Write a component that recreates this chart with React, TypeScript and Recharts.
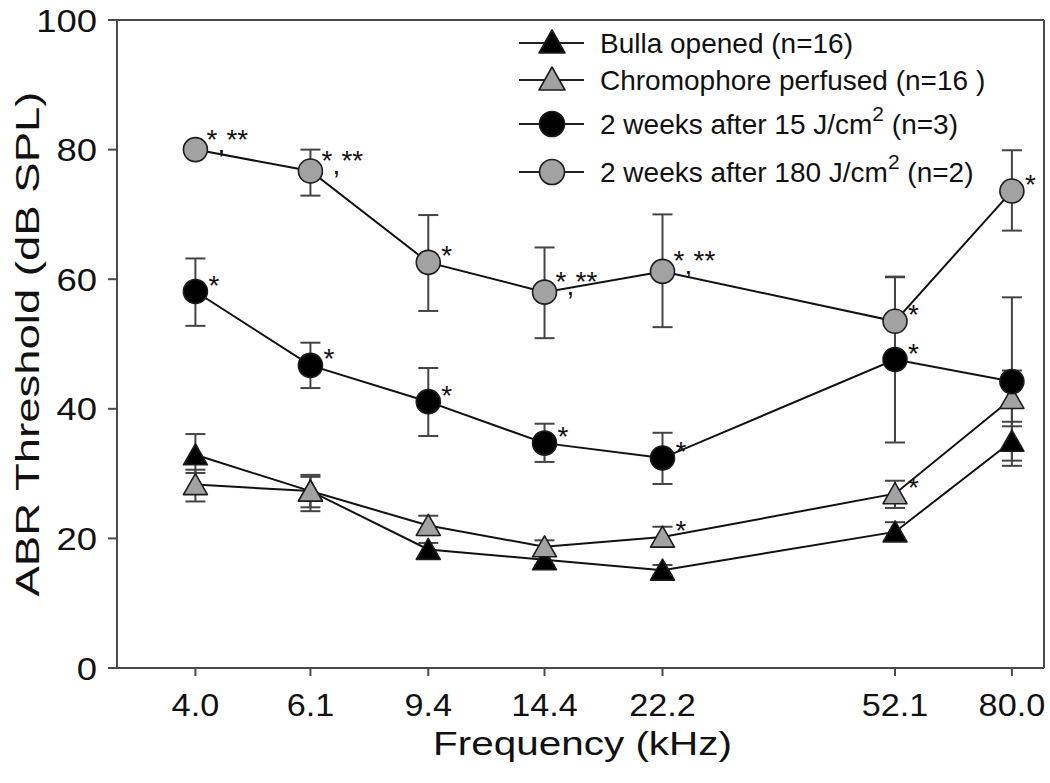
import React from 'react';
import { LineChart, Line, XAxis, YAxis, ErrorBar, ReferenceLine, Legend, LabelList, Label } from 'recharts';

// ---- data ----
const frequencies = [4.0, 6.1, 9.4, 14.4, 22.2, 52.1, 80.0];
const xTickLabels = ['4.0', '6.1', '9.4', '14.4', '22.2', '52.1', '80.0'];
const yTicks = [0, 20, 40, 60, 80, 100];

const bullaOpened = [32.9, 27.3, 18.3, 16.7, 15.1, 21.0, 35.0];
const bullaOpenedErr = [[2.8, 3.2], [2.5, 2.5], [1.0, 1.0], [0.8, 0.8], [0.8, 0.8], [1.2, 1.5], [3.0, 3.0]];
const chromophore = [28.3, 27.3, 22.0, 18.7, 20.2, 26.9, 41.6];
const chromophoreErr = [[2.6, 2.3], [3.1, 2.2], [1.5, 1.5], [1.0, 1.0], [1.5, 1.6], [2.2, 2.0], [4.3, 4.3]];
const weeks15 = [58.1, 46.7, 41.1, 34.7, 32.4, 47.6, 44.2];
const weeks15Err = [[5.3, 5.1], [3.5, 3.5], [5.3, 5.2], [2.9, 3.0], [4.0, 3.9], [12.8, 12.8], [13.0, 13.0]];
const weeks180 = [80.0, 76.7, 62.6, 58.0, 61.2, 53.5, 73.6];
const weeks180Err = [[0, 0], [3.8, 3.3], [7.5, 7.3], [7.1, 6.9], [8.6, 8.8], [6.8, 6.8], [6.1, 6.3]];

const chromophoreSig = ['', '', '', '', '*', '*', ''];
const weeks15Sig = ['*', '*', '*', '*', '*', '*', ''];
const weeks180Sig = ['*,**', '*,**', '*', '*,**', '*,**', '*', '*'];

const legendLabels = [
  { main: 'Bulla opened (n=16)', sup: '', tail: '' },
  { main: 'Chromophore perfused (n=16 )', sup: '', tail: '' },
  { main: '2 weeks after 15 J/cm', sup: '2', tail: ' (n=3)' },
  { main: '2 weeks after 180 J/cm', sup: '2', tail: ' (n=2)' },
];

const data = frequencies.map((f, i) => ({
  freq: f,
  bulla: bullaOpened[i],
  bullaErr: bullaOpenedErr[i],
  chromo: chromophore[i],
  chromoErr: chromophoreErr[i],
  chromoSig: chromophoreSig[i],
  w15: weeks15[i],
  w15Err: weeks15Err[i],
  w15Sig: weeks15Sig[i],
  w180: weeks180[i],
  w180Err: weeks180Err[i],
  w180Sig: weeks180Sig[i],
}));

// ---- styles ----
const FONT = 'Liberation Sans, Arial, Helvetica, sans-serif';
const GRAY = '#a2a2a2';
const OUTLINE = '#1c1c1c';
const AXIS = '#4a4a4a';

const Triangle = ({ cx, cy, fill }: any) => (
  <polygon
    points={`${cx},${cy - 11} ${cx - 12},${cy + 10} ${cx + 12},${cy + 10}`}
    fill={fill}
    stroke={OUTLINE}
    strokeWidth={1.6}
    strokeLinejoin="round"
  />
);
const Circle = ({ cx, cy, fill }: any) => (
  <circle cx={cx} cy={cy} r={12} fill={fill} stroke={OUTLINE} strokeWidth={1.6} />
);

const makeDot = (kind: 'tri' | 'circ', fill: string) => (props: any) => {
  const { cx, cy, index } = props;
  if (cx == null || cy == null) return <g key={`d${index}`} />;
  return (
    <g key={`d${index}`}>
      {kind === 'tri' ? <Triangle cx={cx} cy={cy} fill={fill} /> : <Circle cx={cx} cy={cy} fill={fill} />}
    </g>
  );
};

const SigLabel = (props: any) => {
  const { x, y, value } = props;
  if (!value || x == null || y == null) return null;
  const parts = String(value).split(',');
  const common = { fontFamily: FONT, fontSize: 28, fill: '#111' };
  if (parts.length === 1) {
    return (
      <text x={x + 13} y={y + 3} {...common}>
        {parts[0]}
      </text>
    );
  }
  return (
    <g>
      <text x={x + 11} y={y - 1} {...common}>{parts[0]}</text>
      <text x={x + 22} y={y + 3} {...common}>,</text>
      <text x={x + 31} y={y - 1} {...common}>{parts[1]}</text>
    </g>
  );
};

const YTick = (props: any) => {
  const { x, y, payload } = props;
  return (
    <text
      transform={`translate(${x},${y}) scale(1.14,1)`}
      x={0}
      y={0}
      dy="0.36em"
      textAnchor="end"
      fontFamily={FONT}
      fontSize={32}
      fill="#111"
    >
      {payload.value}
    </text>
  );
};

const XTick = (props: any) => {
  const { x, y, payload } = props;
  const idx = frequencies.indexOf(payload.value);
  const label = idx >= 0 ? xTickLabels[idx] : Number(payload.value).toFixed(1);
  return (
    <text
      transform={`translate(${x},${y}) scale(1.07,1)`}
      x={0}
      y={0}
      dy="0.71em"
      textAnchor="middle"
      fontFamily={FONT}
      fontSize={32}
      fill="#111"
    >
      {label}
    </text>
  );
};

const YTitle = (props: any) => {
  const vb = props.viewBox || { x: 0, y: 20, width: 117, height: 648 };
  const cx = vb.x + 39;
  const cy = vb.y + vb.height / 2;
  return (
    <text
      x={cx}
      y={cy}
      transform={`rotate(-90, ${cx}, ${cy})`}
      textAnchor="middle"
      fontFamily={FONT}
      fontSize={33}
      fill="#111"
      textLength={505}
      lengthAdjust="spacingAndGlyphs"
    >
      ABR Threshold (dB SPL)
    </text>
  );
};

const XTitle = (props: any) => {
  const vb = props.viewBox || { x: 117, y: 668, width: 927, height: 115 };
  const cx = vb.x + vb.width / 2 + 2;
  return (
    <text
      x={cx}
      y={vb.y + 87}
      textAnchor="middle"
      fontFamily={FONT}
      fontSize={33}
      fill="#111"
      textLength={299}
      lengthAdjust="spacingAndGlyphs"
    >
      Frequency (kHz)
    </text>
  );
};

const LegendContent = () => {
  const rowsY = [43, 80, 124, 172];
  const kinds: Array<['tri' | 'circ', string]> = [
    ['tri', '#000'],
    ['tri', GRAY],
    ['circ', '#000'],
    ['circ', GRAY],
  ];
  return (
    <svg width={1050} height={220} style={{ position: 'absolute', left: 0, top: 0, overflow: 'visible' }}>
      {legendLabels.map((l, i) => {
        const y = rowsY[i];
        const [kind, fill] = kinds[i];
        return (
          <g key={i}>
            <line x1={519} x2={584} y1={y} y2={y} stroke="#222" strokeWidth={2} />
            {kind === 'tri' ? (
              <polygon
                points={`552,${y - 13} 539,${y + 10} 565,${y + 10}`}
                fill={fill}
                stroke={OUTLINE}
                strokeWidth={1.6}
                strokeLinejoin="round"
              />
            ) : (
              <circle cx={552} cy={y} r={12.5} fill={fill} stroke={OUTLINE} strokeWidth={1.6} />
            )}
            <text x={600} y={y + 10} fontFamily={FONT} fontSize={28} fill="#111">
              {l.main}
              {l.sup ? (
                <tspan dy={-13} fontSize={21}>
                  {l.sup}
                </tspan>
              ) : null}
              {l.tail ? <tspan dy={l.sup ? 13 : 0}>{l.tail}</tspan> : null}
            </text>
          </g>
        );
      })}
    </svg>
  );
};

export default function App() {
  return (
    <div style={{ position: 'absolute', left: 0, top: 0, width: 1050, height: 783, background: '#fff' }}>
      <LineChart
        width={1050}
        height={783}
        data={data}
        margin={{ top: 20, right: 6, bottom: 0, left: 0 }}
      >
        <XAxis
          dataKey="freq"
          type="number"
          scale="log"
          domain={[3, 90]}
          allowDataOverflow
          ticks={frequencies}
          interval={0}
          height={115}
          tick={<XTick />}
          tickSize={8}
          tickMargin={17}
          axisLine={{ stroke: AXIS, strokeWidth: 2 }}
          tickLine={{ stroke: AXIS, strokeWidth: 2 }}
        >
          <Label content={<XTitle />} />
        </XAxis>
        <YAxis
          type="number"
          domain={[0, 100]}
          ticks={yTicks}
          interval={0}
          width={117}
          tick={<YTick />}
          tickSize={9}
          tickMargin={11}
          axisLine={{ stroke: AXIS, strokeWidth: 2 }}
          tickLine={{ stroke: AXIS, strokeWidth: 2 }}
        >
          <Label content={<YTitle />} />
        </YAxis>
        <ReferenceLine y={100} stroke={AXIS} strokeWidth={2} />
        <ReferenceLine x={90} stroke={AXIS} strokeWidth={2} />

        <Line
          dataKey="bulla"
          name="Bulla opened (n=16)"
          stroke="#111"
          strokeWidth={2}
          isAnimationActive={false}
          dot={makeDot('tri', '#000')}
          activeDot={false}
        >
          <ErrorBar dataKey="bullaErr" width={10} stroke="#444" strokeWidth={2} direction="y" />
        </Line>
        <Line
          dataKey="chromo"
          name="Chromophore perfused (n=16 )"
          stroke="#111"
          strokeWidth={2}
          isAnimationActive={false}
          dot={makeDot('tri', GRAY)}
          activeDot={false}
        >
          <ErrorBar dataKey="chromoErr" width={10} stroke="#444" strokeWidth={2} direction="y" />
          <LabelList dataKey="chromoSig" content={<SigLabel />} />
        </Line>
        <Line
          dataKey="w15"
          name="2 weeks after 15 J/cm2 (n=3)"
          stroke="#111"
          strokeWidth={2}
          isAnimationActive={false}
          dot={makeDot('circ', '#000')}
          activeDot={false}
        >
          <ErrorBar dataKey="w15Err" width={10} stroke="#444" strokeWidth={2} direction="y" />
          <LabelList dataKey="w15Sig" content={<SigLabel />} />
        </Line>
        <Line
          dataKey="w180"
          name="2 weeks after 180 J/cm2 (n=2)"
          stroke="#111"
          strokeWidth={2}
          isAnimationActive={false}
          dot={makeDot('circ', GRAY)}
          activeDot={false}
        >
          <ErrorBar dataKey="w180Err" width={10} stroke="#444" strokeWidth={2} direction="y" />
          <LabelList dataKey="w180Sig" content={<SigLabel />} />
        </Line>
        <Legend
          layout="horizontal"
          verticalAlign="middle"
          align="center"
          content={<LegendContent />}
          wrapperStyle={{ position: 'absolute', left: 0, top: 0, width: 1050, height: 220, pointerEvents: 'none' }}
        />
      </LineChart>
    </div>
  );
}
